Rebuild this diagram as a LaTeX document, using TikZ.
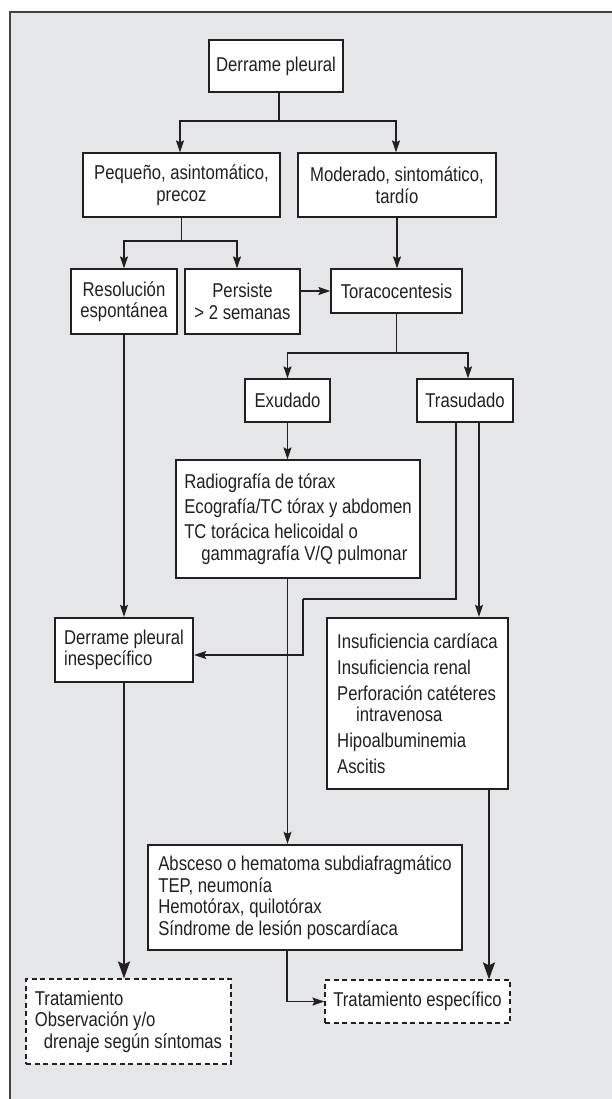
\documentclass[tikz,border=0pt]{standalone}
\usepackage{fontspec}
\setmainfont[FakeStretch=0.835]{Liberation Sans}
\usetikzlibrary{arrows.meta,calc}
\definecolor{panel}{HTML}{E5E6E8}
\definecolor{ink}{HTML}{231F20}
\begin{document}
\begin{tikzpicture}[x=1pt,y=-1pt,
  every node/.style={font=\fontsize{20}{21.5}\selectfont, text=ink},
  box/.style={draw=ink, fill=white, line width=1.2pt, inner sep=0pt, align=center},
  lbox/.style={box, align=left},
  boldbox/.style={lbox, line width=2.4pt},
  dbox/.style={lbox, dash pattern=on 5pt off 3.5pt},
  tip/.style={-{Stealth[length=12pt,width=8pt,inset=2pt]}},
  btip/.style={-{Stealth[length=17pt,width=12pt,inset=3pt]}},
  ln/.style={draw=ink, line width=1.2pt},
  arr/.style={ln, tip},
  barr/.style={draw=ink, line width=2.2pt, btip}]

% page and panel
\useasboundingbox (0,0) rectangle (611,1099);
\fill[white] (0,0) rectangle (611,1099);
\fill[panel] (10,12) rectangle (612,1100);
\draw[ink!85, line width=1.3pt] (10,1100) -- (10,12) -- (612,12);

% boxes
\node[box, minimum width=134pt, minimum height=52pt] (top) at (276,66) {Derrame pleural};
\node[box, minimum width=197pt, minimum height=64pt] (peq) at (181.5,185) {Pequeño, asintomático,\\precoz};
\node[box, minimum width=198pt, minimum height=64pt] (mod) at (397,185) {Moderado, sintomático,\\tardío};
\node[box, minimum width=106pt, minimum height=65pt] (res) at (124,301.5) {Resolución\\espontánea};
\node[box, minimum width=115pt, minimum height=65pt] (per) at (242.5,301.5) {Persiste\\> 2 semanas};
\node[box, minimum width=131pt, minimum height=44pt] (tor) at (396.5,291) {Toracocentesis};
\node[box, minimum width=85pt, minimum height=43pt] (exu) at (287.5,400.5) {Exudado};
\node[box, minimum width=96pt, minimum height=43pt] (tra) at (465,400.5) {Trasudado};
\node[lbox, minimum width=244pt, minimum height=118pt] (rad) at (298,519)
  {Radiografía de tórax\\[3.5pt]
   Ecografía/TC tórax y abdomen\\[3.5pt]
   TC torácica helicoidal o\\
   \hspace*{17pt}gammagrafía V/Q pulmonar};
\node[boldbox, minimum width=138pt, minimum height=64pt] (dpi) at (124,650)
  {Derrame pleural\\inespecífico};
\node[boldbox, minimum width=181pt, minimum height=171pt] (ins) at (417.5,703.5)
  {Insuficiencia cardíaca\\[4.5pt]
   Insuficiencia renal\\[4.5pt]
   Perforación catéteres\\
   \hspace*{19pt}intravenosa\\[4.5pt]
   Hipoalbuminemia\\[4.5pt]
   Ascitis};
\node[boldbox, minimum width=314pt, minimum height=105pt] (abs) at (305,897.5)
  {Absceso o hematoma subdiafragmático\\
   TEP, neumonía\\
   Hemotórax, quilotórax\\
   Síndrome de lesión poscardíaca};
\node[dbox, minimum width=205pt, minimum height=85pt] (trt) at (128.5,1021.5)
  {Tratamiento\\
   Observación y/o\\
   \hspace*{9pt}drenaje según síntomas};
\node[dbox, minimum width=185pt, minimum height=43pt] (esp) at (417.5,1001.5)
  {Tratamiento específico};

% junction points
\coordinate (j1) at ([xshift=3pt]top.south |- 0,121);
\coordinate (j2) at (peq.south |- 0,241);
\coordinate (j3) at (tor.south |- 0,353);
\coordinate (j4) at ([xshift=-9pt]tra.south |- 0,599);
\coordinate (j5) at (303,599);

% connectors
\draw[ln] ([xshift=3pt]top.south) -- (j1);
\draw[arr] (j1) -| ([xshift=-1.5pt]peq.north);
\draw[arr] (j1) -| ([xshift=-1pt]mod.north);
\draw[ln] (peq.south) -- (j2);
\draw[arr] (j2) -| (res.north);
\draw[arr] (j2) -| ([xshift=-5.5pt]per.north);
\draw[arr] (per.east |- tor.west) -- (tor.west);
\draw[arr] (mod.south) -- (mod.south |- tor.north);
\draw[ln] (tor.south) -- (j3);
\draw[arr] (j3) -| (exu.north);
\draw[arr] (j3) -| ([xshift=3pt]tra.north);
\draw[arr] (exu.south) -- (exu.south |- rad.north);
\draw[arr] (res.south) -- (dpi.north);
\draw[ln] ([xshift=-9pt]tra.south) -- (j4) -- (j5);
\draw[arr] (j5) |- ([yshift=-5pt]dpi.east);
\draw[arr] ([xshift=14pt]tra.south) -- ([xshift=14pt]tra.south |- ins.north);
\draw[arr] (exu.south |- rad.south) -- (exu.south |- abs.north);
\draw[barr] (dpi.south) -- (dpi.south |- trt.north);
\draw[arr] ([xshift=-18pt]abs.south) |- (esp.west);
\draw[barr] ([xshift=71.5pt]ins.south) -- ([xshift=71.5pt]ins.south |- esp.north);
\end{tikzpicture}
\end{document}
